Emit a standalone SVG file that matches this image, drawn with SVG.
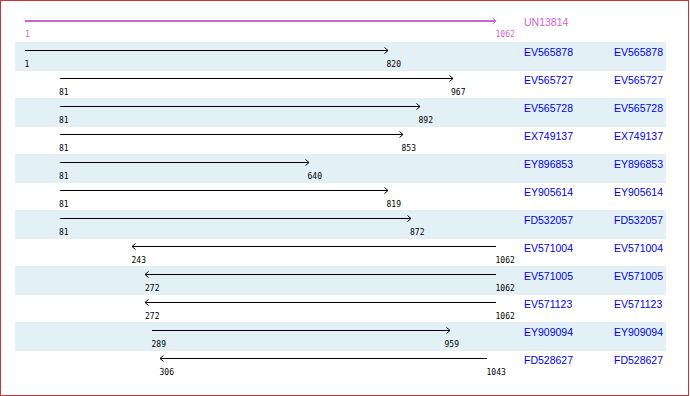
<svg xmlns="http://www.w3.org/2000/svg" width="690" height="396" viewBox="0 0 690 396">
<style>
.band{fill:#e3f0f5}
.ln{stroke:#000;stroke-width:1;fill:none}
.lnq{stroke:#cc66cc;stroke-width:2;fill:none}
.num{font-family:"DejaVu Sans Mono","Liberation Mono",monospace;font-size:8px;fill:#000}
.numq{font-family:"DejaVu Sans Mono","Liberation Mono",monospace;font-size:8px;fill:#cc66cc}
.nm{font-family:"Liberation Sans",Arial,sans-serif;font-size:10.5px;fill:#0000ee}
.nmq{font-family:"Liberation Sans",Arial,sans-serif;font-size:10.5px;fill:#cc66cc}
</style>
<defs>
<marker id="ae" viewBox="0 0 6 8" refX="5" refY="4" markerWidth="6" markerHeight="8" orient="auto" markerUnits="userSpaceOnUse"><path d="M1.5,1 L5,4 L1.5,7" fill="none" stroke="#000" stroke-width="1"/></marker>
<marker id="as" viewBox="0 0 6 8" refX="1" refY="4" markerWidth="6" markerHeight="8" orient="auto" markerUnits="userSpaceOnUse"><path d="M4.5,1 L1,4 L4.5,7" fill="none" stroke="#000" stroke-width="1"/></marker>
<marker id="aq" viewBox="0 0 6 8" refX="5" refY="4" markerWidth="6" markerHeight="8" orient="auto" markerUnits="userSpaceOnUse"><path d="M1.5,1 L5,4 L1.5,7" fill="none" stroke="#cc66cc" stroke-width="1"/></marker>
</defs>
<rect x="0.5" y="0.5" width="688" height="395" fill="#fff" stroke="#c83737" stroke-width="1"/>
<g id="bands">
<rect class="band" x="15" y="42" width="651" height="29"/>
<rect class="band" x="15" y="98" width="651" height="29"/>
<rect class="band" x="15" y="154" width="651" height="29"/>
<rect class="band" x="15" y="210" width="651" height="29"/>
<rect class="band" x="15" y="266" width="651" height="29"/>
<rect class="band" x="15" y="322" width="651" height="29"/>
</g>
<g id="connectors">
<line class="lnq" x1="25" y1="21" x2="496" y2="21" marker-end="url(#aq)"/>
<line class="ln" x1="25" y1="50.5" x2="388" y2="50.5" marker-end="url(#ae)"/>
<line class="ln" x1="60" y1="78.5" x2="453" y2="78.5" marker-end="url(#ae)"/>
<line class="ln" x1="60" y1="106.5" x2="420" y2="106.5" marker-end="url(#ae)"/>
<line class="ln" x1="60" y1="134.5" x2="403" y2="134.5" marker-end="url(#ae)"/>
<line class="ln" x1="60" y1="162.5" x2="309" y2="162.5" marker-end="url(#ae)"/>
<line class="ln" x1="60" y1="190.5" x2="388" y2="190.5" marker-end="url(#ae)"/>
<line class="ln" x1="60" y1="218.5" x2="411" y2="218.5" marker-end="url(#ae)"/>
<line class="ln" x1="132" y1="246.5" x2="496" y2="246.5" marker-start="url(#as)"/>
<line class="ln" x1="145" y1="274.5" x2="496" y2="274.5" marker-start="url(#as)"/>
<line class="ln" x1="145" y1="302.5" x2="496" y2="302.5" marker-start="url(#as)"/>
<line class="ln" x1="152" y1="330.5" x2="450" y2="330.5" marker-end="url(#ae)"/>
<line class="ln" x1="160" y1="358.5" x2="487" y2="358.5" marker-start="url(#as)"/>
</g>
<g id="UN13814"><text class="numq" x="25" y="37">1</text><text class="numq" x="495.5" y="37">1062</text><text class="nmq" x="524" y="26">UN13814</text></g>
<g id="EV565878"><text class="num" x="24.5" y="67">1</text><text class="num" x="386.5" y="67">820</text><text class="nm" x="524" y="56">EV565878</text><text class="nm" x="614" y="56">EV565878</text></g>
<g id="EV565727"><text class="num" x="59" y="95">81</text><text class="num" x="451" y="95">967</text><text class="nm" x="524" y="84">EV565727</text><text class="nm" x="614" y="84">EV565727</text></g>
<g id="EV565728"><text class="num" x="59" y="123">81</text><text class="num" x="418.5" y="123">892</text><text class="nm" x="524" y="112">EV565728</text><text class="nm" x="614" y="112">EV565728</text></g>
<g id="EX749137"><text class="num" x="59" y="151">81</text><text class="num" x="401.5" y="151">853</text><text class="nm" x="524" y="140">EX749137</text><text class="nm" x="614" y="140">EX749137</text></g>
<g id="EY896853"><text class="num" x="59" y="179">81</text><text class="num" x="307.5" y="179">640</text><text class="nm" x="524" y="168">EY896853</text><text class="nm" x="614" y="168">EY896853</text></g>
<g id="EY905614"><text class="num" x="59" y="207">81</text><text class="num" x="386.5" y="207">819</text><text class="nm" x="524" y="196">EY905614</text><text class="nm" x="614" y="196">EY905614</text></g>
<g id="FD532057"><text class="num" x="59" y="235">81</text><text class="num" x="410" y="235">872</text><text class="nm" x="524" y="224">FD532057</text><text class="nm" x="614" y="224">FD532057</text></g>
<g id="EV571004"><text class="num" x="131.5" y="263">243</text><text class="num" x="495.5" y="263">1062</text><text class="nm" x="524" y="252">EV571004</text><text class="nm" x="614" y="252">EV571004</text></g>
<g id="EV571005"><text class="num" x="145" y="291">272</text><text class="num" x="495.5" y="291">1062</text><text class="nm" x="524" y="280">EV571005</text><text class="nm" x="614" y="280">EV571005</text></g>
<g id="EV571123"><text class="num" x="145" y="319">272</text><text class="num" x="495.5" y="319">1062</text><text class="nm" x="524" y="308">EV571123</text><text class="nm" x="614" y="308">EV571123</text></g>
<g id="EY909094"><text class="num" x="151.5" y="347">289</text><text class="num" x="444.5" y="347">959</text><text class="nm" x="524" y="336">EY909094</text><text class="nm" x="614" y="336">EY909094</text></g>
<g id="FD528627"><text class="num" x="159.5" y="375">306</text><text class="num" x="486.5" y="375">1043</text><text class="nm" x="524" y="364">FD528627</text><text class="nm" x="614" y="364">FD528627</text></g>
</svg>
